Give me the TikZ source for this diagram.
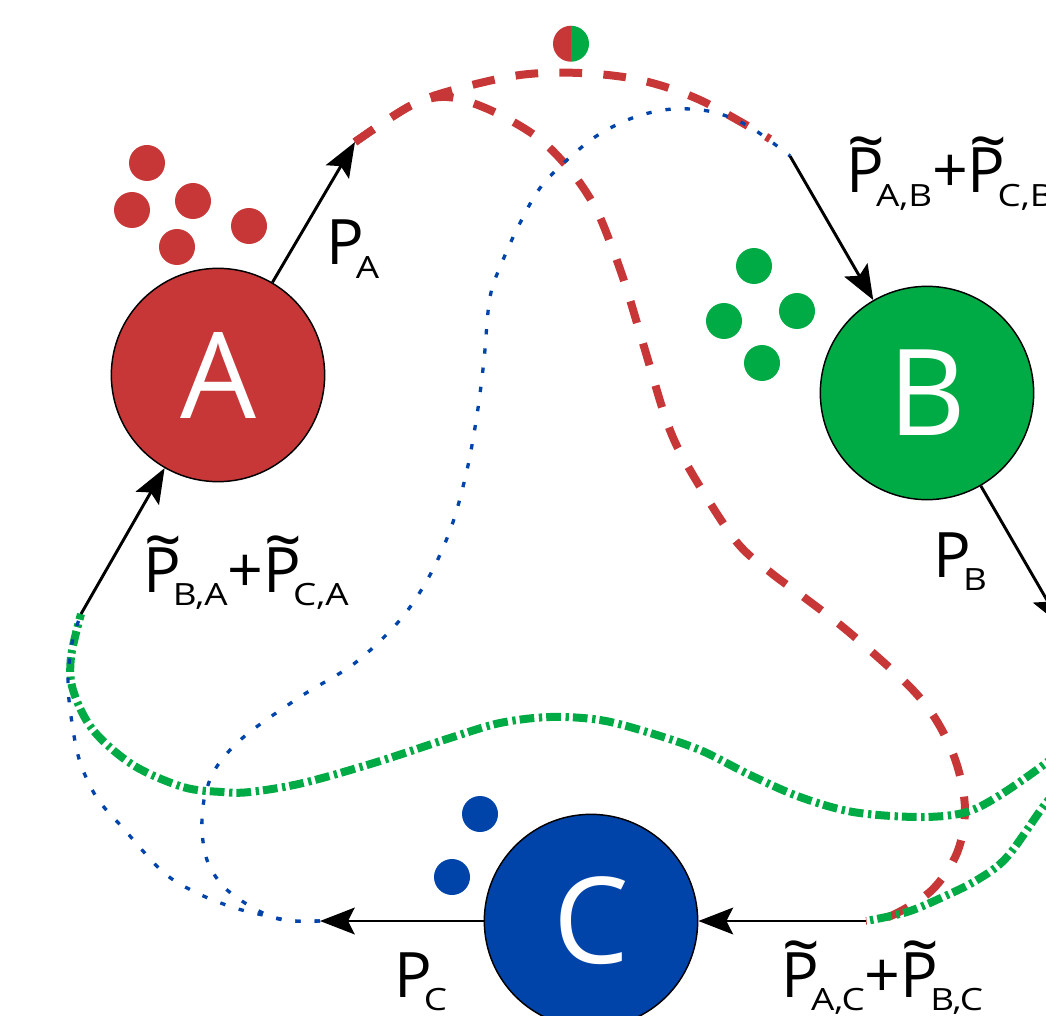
\documentclass[tikz,border=0pt]{standalone}
\usepackage{graphicx}
\usepackage{fontspec}
\setmainfont{Open Sans}
\usetikzlibrary{arrows.meta}
\definecolor{cred}{HTML}{C83737}
\definecolor{cgreen}{HTML}{00AA44}
\definecolor{cblue}{HTML}{0044AA}
\newcommand\tP{\leavevmode\rlap{\raisebox{0.44em}{\kern0.02em\scalebox{1.05}[1.1]{\textasciitilde}}}P}
\newcommand\lsub[1]{\kern-6pt\raisebox{-10pt}{\scalebox{1.2}[1]{\fontsize{23}{23}\selectfont #1}}}
\begin{document}
\begin{tikzpicture}[x=0.75pt,y=-0.75pt,
  big/.style={circle, draw=black, line width=1.1pt, minimum size=160pt, inner sep=0pt, text=white, font=\fontsize{90}{90}\selectfont},
  dotn/.style={circle, minimum size=27pt, inner sep=0pt},
  arr/.style={line width=2.2pt, -{Stealth[length=26pt,width=20pt,inset=5pt]}},
  lab/.style={anchor=base west, inner sep=0pt, font=\fontsize{47}{47}\selectfont},
  redc/.style={draw=cred, line width=6pt, dash pattern=on 17pt off 16pt},
  greenc/.style={draw=cgreen, line width=6pt, dash pattern=on 11pt off 3pt on 2.5pt off 3.5pt},
  bluec/.style={draw=cblue, line width=2.5pt, dash pattern=on 4pt off 10.5pt}]
\useasboundingbox (0,0) rectangle (1046,1016);
\clip (0,0) rectangle (1046,1016);
% nodes
\node[big, fill=cred] (A) at (218,375) {A};
\node[big, fill=cgreen] (B) at (927,393) {B};
\node[big, fill=cblue] (C) at (591,921) {C};
% arrow free ends
\coordinate (aoT) at (355,142);
\coordinate (binT) at (790,156);
\coordinate (boT) at (1062,626);
\coordinate (cinT) at (866,921);
\coordinate (coT) at (320,921);
\coordinate (ainT) at (81,614);
\coordinate (gs1) at (1078,735);
\coordinate (gs2) at (1075,772);
% curves
\draw[redc] plot[smooth, tension=0.55] coordinates {(aoT) (410,106) (453,90) (520,75) (580,73) (640,80) (700,100) (770,139)};
\draw[redc] plot[smooth, tension=0.55] coordinates {(aoT) (410,106) (447,97) (490,110) (537,137) (570,170) (595,207) (613,250) (627,290) (645,350) (668,425) (690,470) (735,540) (770,572) (805,598) (850,633) (910,687) (938,723) (957,765) (965,810) (957,853) (932,890) (893,915) (cinT)};
\draw[greenc] plot[smooth, tension=0.55] coordinates {(gs1) (1046,763) (997,797) (963,813) (917,817) (853,812) (800,797) (750,775) (700,750) (647,732) (600,720) (550,717) (500,723) (450,738) (377,762) (303,783) (250,792) (222,792) (183,787) (133,765) (93,730) (73,690) (71,657) (ainT)};
\draw[greenc] plot[smooth, tension=0.55] coordinates {(gs2) (1046,803) (1007,857) (977,880) (943,897) (907,912) (cinT)};
\draw[bluec] plot[smooth, tension=0.55] coordinates {(coT) (293,921) (272,917) (235,908) (197,893) (163,872) (123,828) (97,798) (80,762) (72,723) (68,683) (72,643) (ainT)};
\draw[bluec] plot[smooth, tension=0.55] coordinates {(coT) (293,921) (272,917) (245,903) (222,885) (207,860) (202,830) (204,800) (213,773) (230,750) (255,728) (303,695) (355,663) (400,620) (430,575) (452,525) (467,470) (477,415) (484,360) (490,297) (503,260) (520,223) (540,188) (567,160) (598,135) (635,117) (673,109) (713,112) (750,127) (binT)};
% arrows
\draw[arr] (A) -- (aoT);
\draw[arr] (binT) -- (B);
\draw[arr] (B) -- (boT);
\draw[arr] (cinT) -- (C);
\draw[arr] (C) -- (coT);
\draw[arr] (ainT) -- (A);
% small dots
\foreach \p [count=\i] in {(147,163),(132,210),(193,201),(177,247),(249,226)} \node[dotn, fill=cred] (ad\i) at \p {};
\foreach \p [count=\i] in {(754,266),(724,321),(797,311),(762,363)} \node[dotn, fill=cgreen] (bd\i) at \p {};
\foreach \p [count=\i] in {(480,814),(452,877)} \node[dotn, fill=cblue] (cd\i) at \p {};
\node[dotn] (mix) at (571,44) {};
\fill[cred] (mix.north) arc[start angle=90, end angle=270, radius=13.5pt] -- cycle;
\fill[cgreen] (mix.north) arc[start angle=90, end angle=-90, radius=13.5pt] -- cycle;
% labels
\node[lab] (lPA) at (326,265) {P\lsub{A}};
\node[lab] (lAB) at (846,193) {\tP\lsub{A,B}+\tP\lsub{C,B}};
\node[lab] (lPB) at (933,577) {P\lsub{B}};
\node[lab] (lBA) at (143,592) {\tP\lsub{B,A}+\tP\lsub{C,A}};
\node[lab] (lPC) at (394,997) {P\lsub{C}};
\node[lab] (lAC) at (781,997) {\tP\lsub{A,C}+\tP\lsub{B,C}};
\end{tikzpicture}
\end{document}
